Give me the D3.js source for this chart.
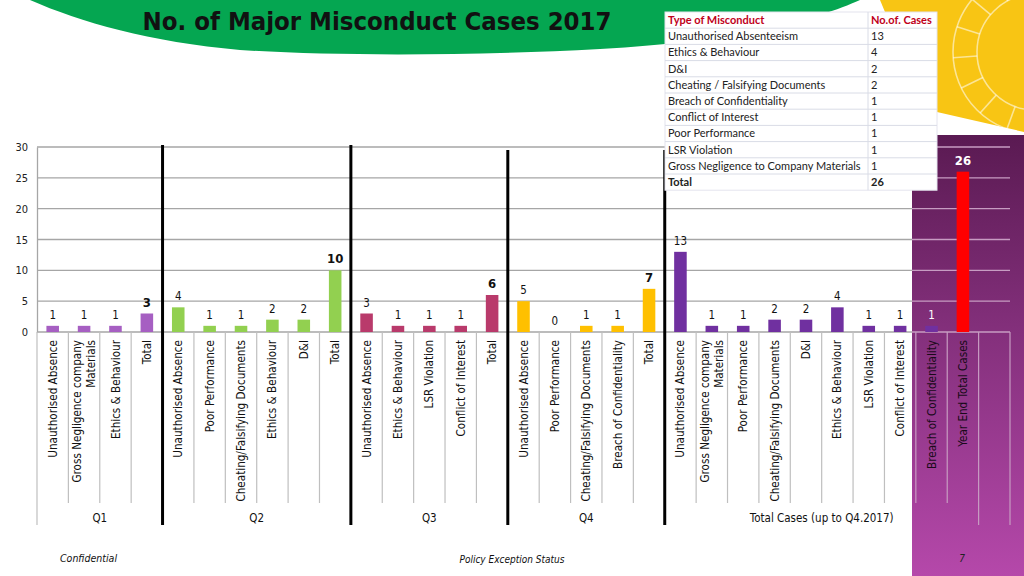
<!DOCTYPE html>
<html><head><meta charset="utf-8">
<script src="https://cdn.jsdelivr.net/npm/d3@7"></script>
<style>body{margin:0;background:#fff;overflow:hidden} svg{display:block}</style>
</head><body>
<svg id="c" width="1024" height="576"></svg>
<script>
// ---------- DATA ----------
const title = "No. of Major Misconduct Cases 2017";
const groupNames = ["Q1", "Q2", "Q3", "Q4", "Total Cases (up to Q4.2017)", ""];
const q1Categories = ["Unauthorised Absence", "Gross Negligence company\nMaterials", "Ethics & Behaviour", "Total"];
const q1Values = [1, 1, 1, 3];
const q2Categories = ["Unauthorised Absence", "Poor Performance", "Cheating/Falsifying Documents", "Ethics & Behaviour", "D&I", "Total"];
const q2Values = [4, 1, 1, 2, 2, 10];
const q3Categories = ["Unauthorised Absence", "Ethics & Behaviour", "LSR Violation", "Conflict of Interest", "Total"];
const q3Values = [3, 1, 1, 1, 6];
const q4Categories = ["Unauthorised Absence", "Poor Performance", "Cheating/Falsifying Documents", "Breach of Confidentiality", "Total"];
const q4Values = [5, 0, 1, 1, 7];
const totalCategories = ["Unauthorised Absence", "Gross Negligence company\nMaterials", "Poor Performance", "Cheating/Falsifying Documents", "D&I", "Ethics & Behaviour", "LSR Violation", "Conflict of Interest", "Breach of Confidentiality", "Year End Total Cases"];
const totalValues = [13, 1, 1, 2, 2, 4, 1, 1, 1, 26];
const blankCategories = [""];
const blankValues = [null];
const yTicks = [0, 5, 10, 15, 20, 25, 30];

const tableHeader = ["Type of Misconduct", "No.of. Cases"];
const tableTypes = ["Unauthorised Absenteeism", "Ethics & Behaviour", "D&I", "Cheating / Falsifying Documents", "Breach of Confidentiality", "Conflict of Interest", "Poor Performance", "LSR Violation", "Gross Negligence to Company Materials", "Total"];
const tableCounts = ["13", "4", "2", "2", "1", "1", "1", "1", "1", "26"];

const footerLeft = "Confidential";
const footerCenter = "Policy Exception Status";
const pageNumber = "7";

// ---------- BUILD ----------
(function () {
const groupCats = [q1Categories, q2Categories, q3Categories, q4Categories, totalCategories, blankCategories];
const groupVals = [q1Values, q2Values, q3Values, q4Values, totalValues, blankValues];
const groupColors = ["#a65fc2", "#92d050", "#b93a6b", "#ffc000", "#7030a0", "#7030a0"];

const rows = [];
groupCats.forEach((cats, gi) => cats.forEach((c, ci) => rows.push({
  key: gi + "_" + ci, label: c, value: groupVals[gi][ci], group: gi,
  isTotal: c === "Total" || c === "Year End Total Cases", isYearEnd: c === "Year End Total Cases"
})));

const svg = d3.select("#c");
const W = 1024, H = 576;
const pLeft = 37, pRight = 1010, pTop = 147, pBottom = 332;
const panelX = 912, panelY = 135;
const FONT = "DejaVu Sans Condensed, DejaVu Sans";

const defs = svg.append("defs");
const grad = defs.append("linearGradient").attr("id", "pg").attr("x1", 0).attr("y1", 0).attr("x2", 0).attr("y2", 1);
grad.append("stop").attr("offset", "0%").attr("stop-color", "#5a1a52");
grad.append("stop").attr("offset", "45%").attr("stop-color", "#84307c");
grad.append("stop").attr("offset", "100%").attr("stop-color", "#b548aa");

// background decorations
svg.append("path").attr("d", "M30,0 L860,0 C820,18 740,42 600,49 C470,56 330,56 240,50 C150,42 80,22 30,0 Z").attr("fill", "#05a651");
const sunClip = defs.append("clipPath").attr("id", "sunclip");
const sunPath = "M880,0 L1024,0 L1024,132 L937,112 L905,60 Z";
sunClip.append("path").attr("d", sunPath);
svg.append("path").attr("d", sunPath).attr("fill", "#f8c514");
const sunG = svg.append("g").attr("clip-path", "url(#sunclip)");
sunG.append("circle").attr("cx", 1035).attr("cy", 52).attr("r", 58).attr("fill", "none").attr("stroke", "rgba(255,255,255,0.55)").attr("stroke-width", 1.6);
sunG.append("circle").attr("cx", 1035).attr("cy", 52).attr("r", 82).attr("fill", "none").attr("stroke", "rgba(255,255,255,0.55)").attr("stroke-width", 1.6);
d3.range(0, 360, 22).forEach(a => {
  const r = a * Math.PI / 180;
  sunG.append("line").attr("x1", 1035 + 58 * Math.cos(r)).attr("y1", 52 + 58 * Math.sin(r))
    .attr("x2", 1035 + 82 * Math.cos(r)).attr("y2", 52 + 82 * Math.sin(r))
    .attr("stroke", "rgba(255,255,255,0.55)").attr("stroke-width", 1.6);
});
svg.append("rect").attr("x", panelX).attr("y", panelY).attr("width", W - panelX).attr("height", H - panelY).attr("fill", "url(#pg)");

// scales
const x = d3.scaleBand().domain(rows.map(r => r.key)).range([pLeft, pRight]).paddingInner(0.6).paddingOuter(0.3);
const xs = d3.scaleLinear().domain([0, rows.length]).range([pLeft, pRight]);
const y = d3.scaleLinear().domain([0, 30]).range([pBottom, pTop]);

// gridlines
const grid = svg.append("g");
yTicks.forEach(t => {
  grid.append("line").attr("x1", pLeft).attr("x2", panelX).attr("y1", y(t)).attr("y2", y(t)).attr("stroke", "#a6a6a6").attr("stroke-width", 1.3);
  grid.append("line").attr("x1", panelX).attr("x2", pRight).attr("y1", y(t)).attr("y2", y(t)).attr("stroke", "#c79cc2").attr("stroke-width", 1.3);
});
// y axis
const yAxis = svg.append("g").attr("transform", `translate(${pLeft},0)`)
  .call(d3.axisLeft(y).tickValues(yTicks).tickSize(0).tickPadding(9));
yAxis.select(".domain").attr("stroke", "#a6a6a6").attr("stroke-width", 1.3);
yAxis.selectAll("text").attr("font-family", FONT).attr("font-size", 11).attr("fill", "#222");

// category boundaries
let idx = 0;
const groupStart = [];
groupCats.forEach((cats) => { groupStart.push(idx); idx += cats.length; });
groupStart.push(idx);
d3.range(0, rows.length + 1).forEach(i => {
  const isG = groupStart.includes(i);
  const xx = xs(i);
  svg.append("line").attr("x1", xx).attr("x2", xx).attr("y1", pBottom).attr("y2", isG ? 525 : 503)
    .attr("stroke", xx >= panelX ? "#c79cc2" : "#bfbfbf").attr("stroke-width", 1.2);
});

// bars
svg.append("g").selectAll("rect").data(rows.filter(r => r.value !== null)).join("rect")
  .attr("x", d => x(d.key)).attr("width", x.bandwidth())
  .attr("y", d => y(d.value)).attr("height", d => y(0) - y(d.value))
  .attr("fill", d => d.isYearEnd ? "#ff0000" : groupColors[d.group]);

// value labels
svg.append("g").selectAll("text").data(rows.filter(r => r.value !== null)).join("text")
  .attr("x", d => x(d.key) + x.bandwidth() / 2)
  .attr("y", d => y(d.value) - 7)
  .attr("text-anchor", "middle")
  .attr("font-family", FONT)
  .attr("font-size", d => d.isTotal ? 13 : 11.5)
  .attr("font-weight", d => d.isTotal ? "bold" : "normal")
  .attr("fill", d => (x(d.key) > panelX) ? "#ffffff" : "#111")
  .text(d => d.value);

// category labels
const catG = svg.append("g");
rows.forEach(r => {
  if (!r.label) return;
  const lines = r.label.split("\n");
  const cx = x(r.key) + x.bandwidth() / 2;
  const lh = 13.5;
  const t = catG.append("text")
    .attr("transform", `translate(${cx},340) rotate(-90)`)
    .attr("text-anchor", "end")
    .attr("font-family", FONT)
    .attr("font-size", 11.6)
    .attr("fill", cx > panelX ? "#1a0a1a" : "#111");
  lines.forEach((ln, i) => {
    t.append("tspan").attr("x", 0)
      .attr("y", (i - (lines.length - 1) / 2) * lh)
      .attr("dy", "0.35em").text(ln);
  });
});

// group labels
groupNames.forEach((g, gi) => {
  if (!g) return;
  const cx = (xs(groupStart[gi]) + xs(groupStart[gi + 1])) / 2;
  svg.append("text").attr("x", cx).attr("y", 522).attr("text-anchor", "middle")
    .attr("font-family", FONT).attr("font-size", 11.5).attr("fill", "#111").text(g);
});

// thick separators between quarters
[1, 2, 3, 4].forEach(gi => {
  const xx = xs(groupStart[gi]);
  svg.append("line").attr("x1", xx).attr("x2", xx).attr("y1", gi < 3 ? 145 : 150).attr("y2", 525)
    .attr("stroke", "#000").attr("stroke-width", 3);
});

// title
svg.append("text").attr("x", 377).attr("y", 30).attr("text-anchor", "middle")
  .attr("font-family", FONT).attr("font-weight", "bold").attr("font-size", 25.5)
  .attr("fill", "#111").text(title);

// table
const tX = 665, tW = 272, c1 = 203, tY = 12, rh = 16.2;
const tbl = svg.append("g");
const allRows = [tableHeader].concat(tableTypes.map((t, i) => [t, tableCounts[i]]));
tbl.append("rect").attr("x", tX).attr("y", tY).attr("width", tW).attr("height", rh * allRows.length).attr("fill", "#fff")
  .attr("stroke", "#e4e4ee").attr("stroke-width", 1);
allRows.forEach((r, i) => {
  const yy = tY + i * rh;
  if (i > 0) tbl.append("line").attr("x1", tX).attr("x2", tX + tW).attr("y1", yy).attr("y2", yy).attr("stroke", "#d9dce6");
  const bold = i === 0 || i === allRows.length - 1;
  const col = i === 0 ? "#c0001a" : "#222";
  tbl.append("text").attr("x", tX + 3).attr("y", yy + rh / 2).attr("dy", "0.35em")
    .attr("font-family", "Lato, Carlito, sans-serif").attr("font-size", 11)
    .attr("font-weight", bold ? "bold" : "normal").attr("fill", col).text(r[0]);
  tbl.append("text").attr("x", tX + c1 + 3).attr("y", yy + rh / 2).attr("dy", "0.35em")
    .attr("font-family", "Lato, Carlito, sans-serif").attr("font-size", 11)
    .attr("font-weight", bold ? "bold" : "normal").attr("fill", col).text(r[1]);
});
tbl.append("line").attr("x1", tX + c1).attr("x2", tX + c1).attr("y1", tY).attr("y2", tY + rh * allRows.length).attr("stroke", "#d9dce6");

// footer
svg.append("text").attr("x", 60).attr("y", 562).attr("font-family", FONT)
  .attr("font-style", "italic").attr("font-size", 10.5).attr("fill", "#111").text(footerLeft);
svg.append("text").attr("x", 512).attr("y", 563).attr("text-anchor", "middle").attr("font-family", FONT)
  .attr("font-style", "italic").attr("font-size", 10).attr("fill", "#111").text(footerCenter);
svg.append("text").attr("x", 962).attr("y", 562).attr("text-anchor", "middle").attr("font-family", FONT)
  .attr("font-style", "italic").attr("font-size", 10).attr("fill", "#222").text(pageNumber);
})();
</script>
</body></html>
